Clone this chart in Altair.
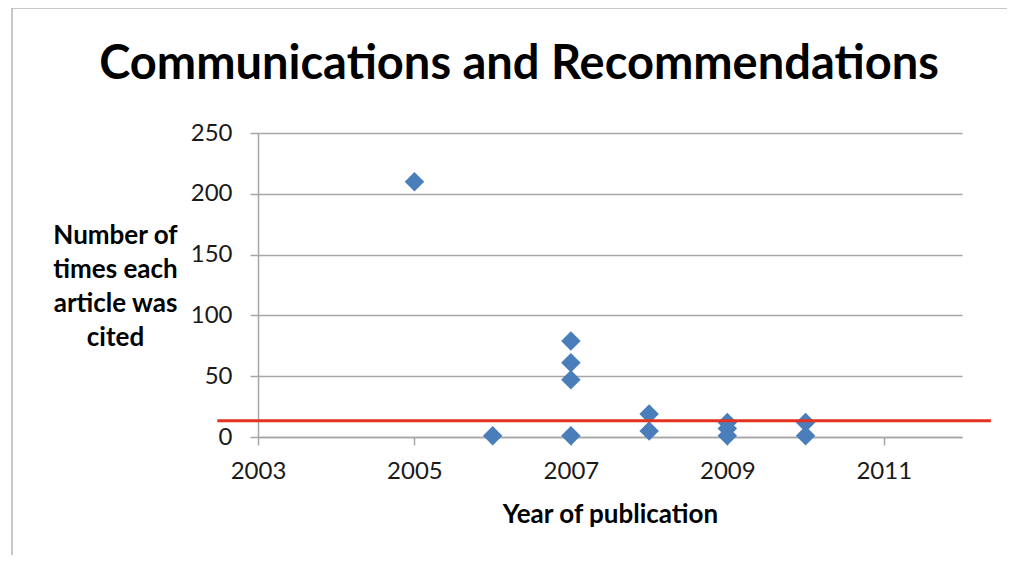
import altair as alt
import pandas as pd

# Data
years = [2005, 2006, 2007, 2007, 2007, 2007, 2008, 2008, 2009, 2009, 2009, 2010, 2010]
citations = [210, 1, 79, 61, 47, 1, 19, 5, 12, 7, 1, 12, 1]

# Red reference line
ref_value = [13.4]
ref_start = [2002.48]
ref_end = [2012.37]

x_ticks = [2003, 2005, 2007, 2009, 2011]
y_ticks = [0, 50, 100, 150, 200, 250]

title_text = ["Communications and Recommendations"]

FONT = "Lato"
GRID = "#a6a6a6"

pts = pd.DataFrame({"year": years, "cited": citations})
ref = pd.DataFrame({"x": ref_start, "x2": ref_end, "y": ref_value})
frame = pd.DataFrame({"k": [0]})
ttl = pd.DataFrame({"t": title_text})

x_scale = alt.Scale(domain=[2003, 2012], nice=False, zero=False)
y_scale = alt.Scale(domain=[0, 250], nice=False)

points = alt.Chart(pts).mark_point(
    shape="diamond", filled=True, size=380, color="#4a7ebb", opacity=1
).encode(
    x=alt.X("year:Q", scale=x_scale,
            axis=alt.Axis(values=x_ticks, format="d", grid=False,
                          title="Year of publication",
                          titleFont=FONT, titleFontSize=26, titleFontWeight="bold",
                          titleColor="#000000", titlePadding=18,
                          labelFont=FONT, labelFontSize=24, labelColor="#1a1a1a",
                          labelPadding=14, tickSize=8, tickColor=GRID,
                          domainColor=GRID, domainWidth=1.5, tickWidth=1.5)),
    y=alt.Y("cited:Q", scale=y_scale,
            axis=alt.Axis(values=y_ticks, grid=True, gridColor=GRID, gridWidth=1.5,
                          title=["Number of", "times each", "article was", "cited"],
                          titleFont=FONT, titleFontSize=26, titleFontWeight="bold",
                          titleColor="#000000", titleAngle=0, titleAlign="center",
                          titleBaseline="top", titleX=-143, titleY=89,
                          titleLineHeight=34,
                          labelFont=FONT, labelFontSize=24, labelColor="#1a1a1a",
                          labelPadding=18, tickSize=8, tickColor=GRID,
                          domainColor=GRID, domainWidth=1.5, tickWidth=1.5)),
)

rule = alt.Chart(ref).mark_rule(color="#e2321f", strokeWidth=3).encode(
    x=alt.X("x:Q", scale=x_scale),
    x2="x2:Q",
    y=alt.Y("y:Q", scale=y_scale),
)

border = alt.Chart(frame).mark_rect(filled=False, stroke="#b5b5b5", strokeWidth=1.5).encode(
    x=alt.value(-246), x2=alt.value(760), y=alt.value(-125), y2=alt.value(500)
)

title = alt.Chart(ttl).mark_text(
    font=FONT, fontSize=47, fontWeight="bold", color="#000000",
    align="center", baseline="alphabetic",
).encode(text="t:N", x=alt.value(261), y=alt.value(-54))

chart = alt.layer(border, points, rule, title).properties(
    width=704,
    height=304,
    autosize=alt.AutoSizeParams(type="none"),
    padding={"left": 250, "top": 125, "right": 45, "bottom": 118},
).configure_view(stroke=None).configure_axis(labelFlush=False)

chart.save("out.html", embed_options={"renderer": "svg", "actions": False})
